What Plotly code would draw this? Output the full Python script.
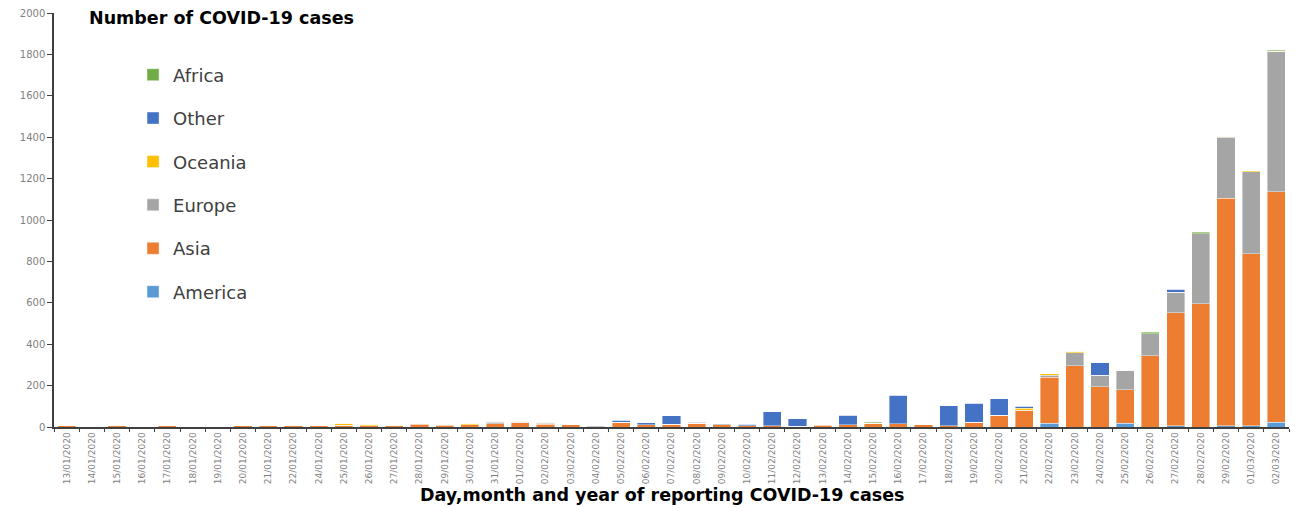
import plotly.graph_objects as go

dates = ["13/01/2020", "14/01/2020", "15/01/2020", "16/01/2020", "17/01/2020", "18/01/2020",
         "19/01/2020", "20/01/2020", "21/01/2020", "22/01/2020", "24/01/2020", "25/01/2020",
         "26/01/2020", "27/01/2020", "28/01/2020", "29/01/2020", "30/01/2020", "31/01/2020",
         "01/02/2020", "02/02/2020", "03/02/2020", "04/02/2020", "05/02/2020", "06/02/2020",
         "07/02/2020", "08/02/2020", "09/02/2020", "10/02/2020", "11/02/2020", "12/02/2020",
         "13/02/2020", "14/02/2020", "15/02/2020", "16/02/2020", "17/02/2020", "18/02/2020",
         "19/02/2020", "20/02/2020", "21/02/2020", "22/02/2020", "23/02/2020", "24/02/2020",
         "25/02/2020", "26/02/2020", "27/02/2020", "28/02/2020", "29/02/2020", "01/03/2020",
         "02/03/2020"]

america = [0, 0, 0, 0, 0, 0, 0, 0, 0, 0, 0, 0, 0, 0, 0, 0, 0, 0, 0, 0, 0, 0, 0, 0, 0,
           0, 0, 0, 0, 0, 0, 0, 0, 0, 0, 0, 0, 0, 0, 18, 0, 0, 18, 0, 5, 0, 6, 6, 22]
asia = [5, 0, 5, 0, 5, 0, 0, 5, 5, 5, 5, 9, 7, 6, 13, 8, 11, 16, 21, 13, 10, 2, 22, 11, 13,
        17, 12, 7, 5, 3, 8, 11, 17, 16, 12, 6, 23, 57, 82, 222, 296, 195, 161, 345, 546, 596,
        1099, 830, 1115]
europe = [0, 0, 0, 0, 0, 0, 0, 0, 0, 0, 0, 0, 0, 0, 5, 4, 0, 7, 2, 5, 0, 3, 0, 0, 0,
          2, 3, 0, 0, 0, 3, 0, 0, 0, 2, 0, 0, 0, 0, 11, 63, 56, 96, 106, 101, 338, 294, 397, 676]
oceania = [0, 0, 0, 0, 0, 0, 0, 0, 0, 0, 0, 8, 7, 0, 0, 0, 8, 5, 6, 5, 0, 0, 0, 0, 0,
           0, 0, 0, 0, 0, 0, 0, 0, 0, 0, 0, 0, 0, 9, 7, 7, 0, 0, 0, 0, 0, 6, 5, 3]
other = [0, 0, 0, 0, 0, 0, 0, 0, 0, 0, 0, 0, 0, 0, 0, 0, 0, 0, 0, 0, 0, 0, 10, 10, 41,
         4, 0, 6, 69, 37, 0, 45, 0, 137, 0, 97, 91, 80, 10, 0, 0, 60, 0, 0, 13, 0, 0, 0, 0]
africa = [0, 0, 0, 0, 0, 0, 0, 0, 0, 0, 0, 0, 0, 0, 0, 0, 0, 0, 0, 0, 0, 0, 0, 0, 0,
          0, 0, 0, 0, 0, 0, 0, 5, 0, 0, 0, 0, 0, 0, 0, 0, 0, 0, 6, 0, 6, 0, 0, 5]

series = [
    ("America", america, "#5B9BD5"),
    ("Asia", asia, "#ED7D31"),
    ("Europe", europe, "#A5A5A5"),
    ("Oceania", oceania, "#FFC000"),
    ("Other", other, "#4472C4"),
    ("Africa", africa, "#70AD47"),
]

y_ticks = list(range(0, 2001, 200))

fig = go.Figure()
n = len(series)
for i, (name, vals, col) in enumerate(series):
    fig.add_trace(go.Bar(
        x=dates, y=vals, name=name, legendgroup=name, legendrank=n - i,
        marker=dict(color=col, line=dict(color="rgba(255,255,255,0.5)", width=0.8)),
    ))

fig.update_layout(
    barmode="stack",
    bargap=0.28,
    width=1297, height=508,
    margin=dict(l=54, r=8, t=13, b=81),
    plot_bgcolor="white", paper_bgcolor="white",
    font=dict(family="DejaVu Sans", color="#404040"),
    showlegend=True,
    legend=dict(
        x=0.064, y=0.895, xanchor="left", yanchor="top",
        traceorder="grouped", tracegroupgap=17,
        font=dict(size=18, color="#404040"),
        bgcolor="rgba(0,0,0,0)", itemwidth=30,
    ),
    xaxis=dict(
        type="category", tickangle=-90, tickfont=dict(size=9, color="#7F7F7F"),
        showline=True, linecolor="#404040", linewidth=1.5,
        ticks="outside", ticklen=3, tickcolor="#404040", tickson="boundaries",
        range=[-0.5, len(dates) - 0.5],
    ),
    yaxis=dict(
        range=[0, 2000], tickvals=y_ticks, ticktext=[str(v) for v in y_ticks],
        tickfont=dict(size=10, color="#7F7F7F"),
        showline=True, linecolor="#404040", linewidth=1.5,
        ticks="outside", ticklen=5, tickcolor="#404040",
        showgrid=False, zeroline=False,
    ),
    annotations=[
        dict(text="<b>Number of COVID-19 cases</b>", xref="paper", yref="paper",
             x=0.027, y=0.988, xanchor="left", yanchor="middle", showarrow=False,
             font=dict(size=17.5, color="#000000", family="DejaVu Sans")),
        dict(text="<b>Day,month and year of reporting COVID-19 cases</b>", xref="paper",
             yref="paper", x=0.492, y=-0.164, xanchor="center", yanchor="middle",
             showarrow=False, font=dict(size=17.5, color="#000000", family="DejaVu Sans")),
    ],
)

fig.write_html("out.html", config={"displayModeBar": False},
               post_script="document.body.style.margin='0';document.body.style.overflow='hidden';")
